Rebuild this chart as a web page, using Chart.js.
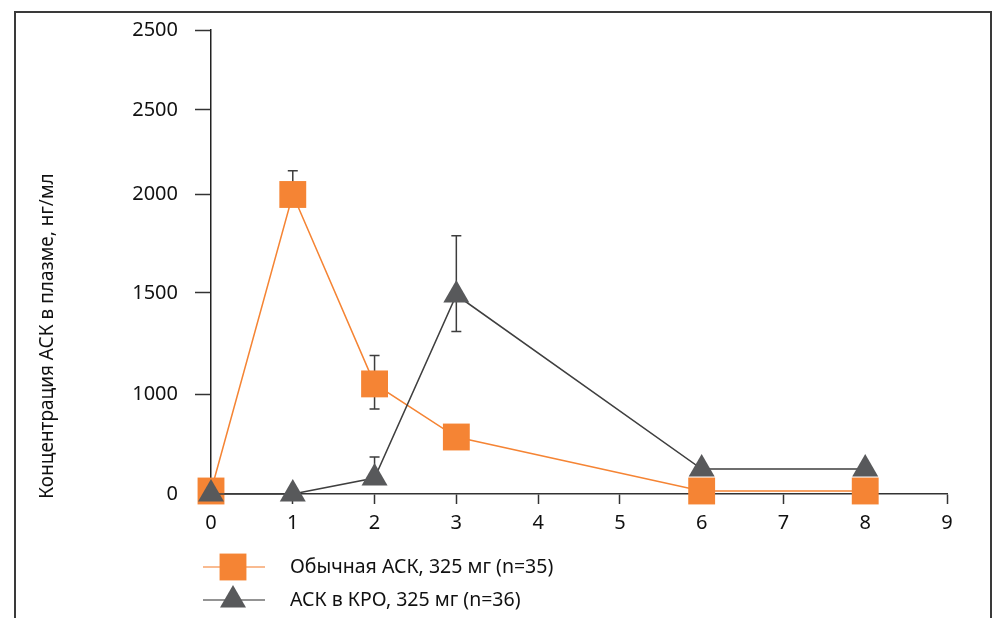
<!DOCTYPE html>
<html>
<head>
<meta charset="utf-8">
<script src="https://cdn.jsdelivr.net/npm/chart.js@4.4.1/dist/chart.umd.min.js"></script>
<style>
html, body { margin: 0; padding: 0; background: #fff; }
#wrap { width: 999px; height: 618px; }
</style>
</head>
<body>
<div id="wrap"><canvas id="pkChart" width="999" height="618"></canvas></div>
<script>
// время после приёма, ч
const hours = [0, 1, 2, 3, 6, 8];

// обычная АСК
const regularAsa = [30, 2000, 1050, 570, 30, 30];
const regularErrLow = [null, null, 850, null, null, null];
const regularErrHigh = [null, 2140, 1190, null, null, null];

// АСК в КРО
const eroAsa = [0, 0, 160, 1490, 250, 250];
const eroErrLow = [null, null, null, 1310, null, null];
const eroErrHigh = [null, null, 370, 1790, null, null];

const seriesNames = ['Обычная АСК, 325 мг (n=35)', 'АСК в КРО, 325 мг (n=36)'];
const yTitle = 'Концентрация АСК в плазме, нг/мл';
const yTickValues = [0, 1000, 1500, 2000, 2500, 3000];
const yTickLabels = ['0', '1000', '1500', '2000', '2500', '2500'];

const ORANGE = '#f58434';
const GREY = '#58595b';
const FONT = '"Noto Sans", sans-serif';

// ось y в оригинале неравномерная - шаги разной высоты
const yTickFrac = [0, 0.2155, 0.4332, 0.6455, 0.8276, 1];

class UnevenScale extends Chart.LinearScale {
    buildTicks() {
        return yTickValues.map(v => ({ value: v }));
    }
    toDecimal(value) {
        let i = 1;
        while (i < yTickValues.length - 1 && value > yTickValues[i]) i++;
        const v0 = yTickValues[i - 1], v1 = yTickValues[i];
        return yTickFrac[i - 1] + (value - v0) / (v1 - v0) * (yTickFrac[i] - yTickFrac[i - 1]);
    }
    getPixelForValue(value) {
        return this.getPixelForDecimal(this.toDecimal(value));
    }
    getValueForPixel(pixel) {
        const d = this.getDecimalForPixel(pixel);
        let i = 1;
        while (i < yTickFrac.length - 1 && d > yTickFrac[i]) i++;
        const f0 = yTickFrac[i - 1], f1 = yTickFrac[i];
        return yTickValues[i - 1] + (d - f0) / (f1 - f0) * (yTickValues[i] - yTickValues[i - 1]);
    }
}
UnevenScale.id = 'uneven';
UnevenScale.defaults = Chart.LinearScale.defaults;
Chart.register(UnevenScale);

function toPoints(values) {
    return hours.map((h, i) => ({ x: h, y: values[i] }));
}

const errorBars = {
    id: 'errorBars',
    beforeDatasetsDraw(chart) {
        const { ctx, scales: { x, y } } = chart;
        const groups = [
            [regularAsa, regularErrLow, regularErrHigh],
            [eroAsa, eroErrLow, eroErrHigh]
        ];
        ctx.save();
        ctx.strokeStyle = '#3d3d3d';
        ctx.lineWidth = 1.5;
        groups.forEach(([mean, lo, hi]) => {
            hours.forEach((h, i) => {
                const px = x.getPixelForValue(h);
                const py = y.getPixelForValue(mean[i]);
                [lo[i], hi[i]].forEach(v => {
                    if (v == null) return;
                    const ey = y.getPixelForValue(v);
                    ctx.beginPath();
                    ctx.moveTo(px, py);
                    ctx.lineTo(px, ey);
                    ctx.moveTo(px - 5, ey);
                    ctx.lineTo(px + 5, ey);
                    ctx.stroke();
                });
            });
        });
        ctx.restore();
    }
};

const decorations = {
    id: 'decorations',
    beforeDraw(chart) {
        const ctx = chart.ctx;
        // рамка
        ctx.save();
        ctx.strokeStyle = '#3a3a3a';
        ctx.lineWidth = 2;
        ctx.beginPath();
        ctx.moveTo(15, 630);
        ctx.lineTo(15, 12);
        ctx.lineTo(991, 12);
        ctx.lineTo(991, 630);
        ctx.stroke();
        ctx.restore();
    },
    afterDraw(chart) {
        const ctx = chart.ctx;
        ctx.save();
        ctx.fillStyle = '#111';
        ctx.font = '19px ' + FONT;
        // подпись оси y
        ctx.translate(48, 336);
        ctx.rotate(-Math.PI / 2);
        ctx.textAlign = 'center';
        ctx.textBaseline = 'middle';
        ctx.fillText(yTitle, 0, 0);
        ctx.restore();

        // легенда
        const items = [
            { y: 567, line: '#f7a46c', fill: ORANGE, style: 'rect', r: 19 },
            { y: 600, line: '#707070', fill: GREY, style: 'triangle', r: 15 }
        ];
        items.forEach((it, i) => {
            ctx.save();
            ctx.strokeStyle = it.line;
            ctx.lineWidth = 1.5;
            ctx.beginPath();
            ctx.moveTo(203, it.y);
            ctx.lineTo(265, it.y);
            ctx.stroke();
            ctx.fillStyle = it.fill;
            Chart.helpers.drawPoint(ctx, { pointStyle: it.style, radius: it.r, rotation: 0, borderWidth: 0 }, 233, it.y);
            ctx.fillStyle = '#111';
            ctx.font = '19.5px ' + FONT;
            ctx.textAlign = 'left';
            ctx.textBaseline = 'middle';
            ctx.fillText(seriesNames[i], 290, it.y);
            ctx.restore();
        });
    }
};

new Chart(document.getElementById('pkChart'), {
    type: 'line',
    data: {
        datasets: [
            {
                label: seriesNames[0],
                data: toPoints(regularAsa),
                borderColor: ORANGE,
                borderWidth: 1.5,
                backgroundColor: ORANGE,
                pointStyle: 'rect',
                pointRadius: 19,
                pointBorderWidth: 0,
                tension: 0,
                clip: false,
                order: 1
            },
            {
                label: seriesNames[1],
                data: toPoints(eroAsa),
                borderColor: '#3f3f3f',
                borderWidth: 1.5,
                backgroundColor: GREY,
                pointStyle: 'triangle',
                pointRadius: 15,
                pointBorderWidth: 0,
                tension: 0,
                clip: false,
                order: 0
            }
        ]
    },
    options: {
        responsive: false,
        devicePixelRatio: 1,
        animation: false,
        events: [],
        layout: { padding: { left: 0, top: 30, right: 52, bottom: 0 } },
        plugins: {
            legend: { display: false },
            tooltip: { enabled: false }
        },
        scales: {
            x: {
                type: 'linear',
                min: 0,
                max: 9,
                afterFit(scale) { scale.height = 124; },
                ticks: {
                    stepSize: 1,
                    color: '#111',
                    font: { family: FONT, size: 20 },
                    padding: 7
                },
                grid: {
                    drawOnChartArea: false,
                    tickLength: 10,
                    tickColor: '#333',
                    tickWidth: 1.5
                },
                border: { color: '#333', width: 1.5 }
            },
            y: {
                type: 'uneven',
                min: 0,
                max: 3000,
                afterFit(scale) { scale.width = 211; },
                ticks: {
                    autoSkip: false,
                    color: '#111',
                    font: { family: FONT, size: 20 },
                    padding: 17,
                    callback: (v, i) => yTickLabels[i]
                },
                grid: {
                    drawOnChartArea: false,
                    tickLength: 16,
                    tickWidth: 1.5,
                    tickColor: ctx => ctx.index === 0 ? 'rgba(0,0,0,0)' : '#333'
                },
                border: { color: '#222', width: 1.5 }
            }
        }
    },
    plugins: [errorBars, decorations]
});
</script>
</body>
</html>
